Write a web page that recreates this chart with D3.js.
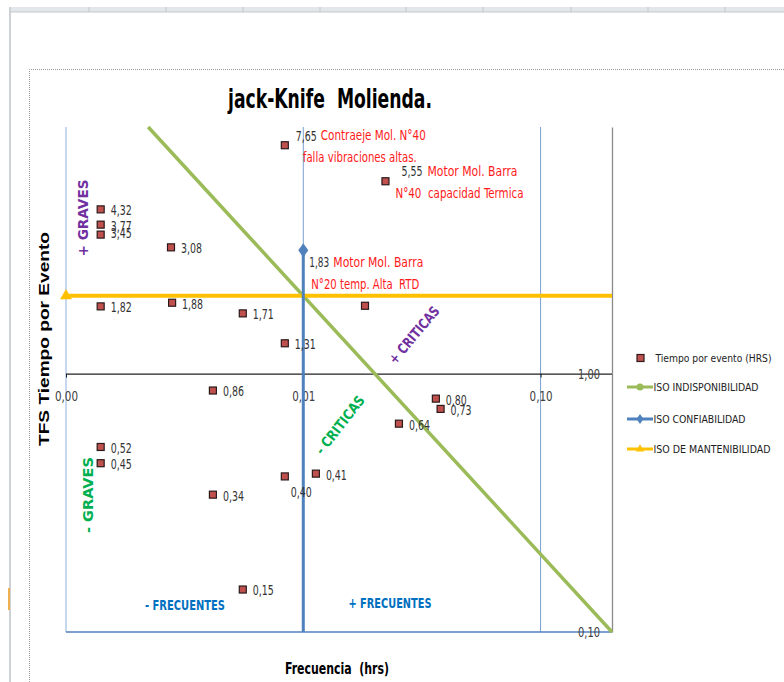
<!DOCTYPE html>
<html>
<head>
<meta charset="utf-8">
<script src="https://cdn.jsdelivr.net/npm/d3@7"></script>
<style>
  body { margin: 0; background: #fff; }
  text { white-space: pre; }
</style>
</head>
<body>
<main></main>
<script>
// jack-knife data: frequency (hrs) vs TFS per event, log-log
const freq = [0.00836, 0.0222, 0.0014, 0.0014, 0.0014, 0.00277, 0.0028, 0.0014, 0.00556, 0.00836, 0.0182,
              0.00416, 0.0362, 0.0379, 0.0253, 0.0014, 0.0014, 0.0113, 0.00836, 0.00416, 0.00556]
const tfs = [7.65, 5.55, 4.32, 3.77, 3.45, 3.08, 1.88, 1.82, 1.71, 1.31, 1.83,
             0.86, 0.80, 0.73, 0.64, 0.52, 0.45, 0.41, 0.40, 0.34, 0.146]
const pointLabels = ["7,65", "5,55", "4,32", "3,77", "3,45", "3,08", "1,88", "1,82", "1,71", "1,31", "",
                     "0,86", "0,80", "0,73", "0,64", "0,52", "0,45", "0,41", "0,40", "0,34", "0,15"]

const xTicks = [0.001, 0.01, 0.1]
const yTicks = [0.1, 1]

// ISO reference lines
const indispX = [0.00222, 0.2]
const indispY = [9, 0.1]
const confX = [0.01, 0.01]
const confY = [0.1, 3]
const mantX = [0.001, 0.2]
const mantY = [2, 2]

const legendNames = ["Tiempo por evento (HRS)", "ISO INDISPONIBILIDAD", "ISO CONFIABILIDAD", "ISO DE MANTENIBILIDAD"]

const W = 784, H = 682
const narrow = "'Liberation Sans Narrow', 'Arial Narrow', 'DejaVu Sans Condensed', sans-serif"
const green = "#9bbb59", blue = "#4f81bd", orange = "#ffc000", red = "#c0504d"

const svg = d3.select("main").append("svg")
    .attr("width", W)
    .attr("height", H)
    .style("display", "block")
    .style("background", "#fff")

function fit(sel, w) {
    return sel.attr("textLength", w).attr("lengthAdjust", "spacingAndGlyphs")
}

// spreadsheet chrome behind the chart
svg.append("rect").attr("x", 10).attr("y", 7).attr("width", W - 10).attr("height", 5).attr("fill", "#e3e6ea")
svg.append("line").attr("x1", 10).attr("x2", W).attr("y1", 12).attr("y2", 12).attr("stroke", "#c3c7cd")
svg.selectAll(".colsep")
    .data([89, 166, 243, 320, 406, 483, 571, 648, 725])
    .enter().append("line")
    .attr("x1", d => d).attr("x2", d => d).attr("y1", 7).attr("y2", 12)
    .attr("stroke", "#c3c7cd")
svg.append("line").attr("x1", 10).attr("x2", 10).attr("y1", 7).attr("y2", H)
    .attr("stroke", "#cdd1d6").attr("stroke-width", 2)
svg.append("rect").attr("x", 8).attr("y", 588).attr("width", 2).attr("height", 22).attr("fill", "#f0b050")
svg.append("path").attr("d", `M29.5,${H} V69.5 H${W}`)
    .attr("fill", "none").attr("stroke", "#9a9a9a").attr("stroke-dasharray", "1,1")

const x = d3.scaleLog().domain([0.001, 0.2]).range([66, 612])
const y = d3.scaleLog().domain([0.1, 9]).range([632, 127])

// vertical gridlines
svg.append("g").selectAll("line")
    .data(xTicks)
    .enter().append("line")
    .attr("x1", d => x(d)).attr("x2", d => x(d))
    .attr("y1", y.range()[1]).attr("y2", y.range()[0])
    .attr("stroke", (d, i) => i == 0 ? "#8fb0dc" : "#7a9fd0")
    .attr("stroke-width", 1)

// bottom line at 0.1
svg.append("line")
    .attr("x1", x.range()[0]).attr("x2", x.range()[1])
    .attr("y1", y(0.1)).attr("y2", y(0.1))
    .attr("stroke", blue).attr("stroke-width", 1.5)

// x axis crossing at tfs = 1
let bottomAxis = d3.axisBottom(x)
    .tickValues(xTicks)
    .tickFormat(d => d3.format(".2f")(d).replace(".", ","))
    .tickSize(4)
    .tickSizeOuter(0)
    .tickPadding(13)

let xAxis = svg.append("g")
    .attr("transform", `translate(0, ${y(1)})`)
    .call(bottomAxis)

xAxis.select("path").attr("stroke", "#222").attr("stroke-width", 1.3)
xAxis.selectAll("line").attr("stroke", "#222")
xAxis.selectAll("text")
    .attr("fill", "#404040")
    .style("font-family", narrow)
    .style("font-size", "14px")
    .each(function () { fit(d3.select(this), 23) })

// y axis on the right edge
let leftAxis = d3.axisLeft(y)
    .tickValues(yTicks)
    .tickFormat(d => d3.format(".2f")(d).replace(".", ","))
    .tickSize(0)
    .tickSizeOuter(0)
    .tickPadding(12)

let yAxis = svg.append("g")
    .attr("transform", `translate(${x.range()[1]}, 0)`)
    .call(leftAxis)

yAxis.select("path").attr("stroke", "#8a8a8a").attr("stroke-width", 1.3)
yAxis.selectAll("text")
    .attr("fill", "#404040")
    .style("font-family", narrow)
    .style("font-size", "14px")
    .each(function () { fit(d3.select(this), 22) })

const line = d3.line().x(d => x(d[0])).y(d => y(d[1]))

// ISO indisponibilidad
svg.append("path")
    .datum(d3.zip(indispX, indispY))
    .attr("d", line)
    .attr("fill", "none").attr("stroke", green).attr("stroke-width", 3.5)

// ISO de mantenibilidad
svg.append("path")
    .datum(d3.zip(mantX, mantY))
    .attr("d", line)
    .attr("fill", "none").attr("stroke", orange).attr("stroke-width", 4)
svg.append("path")
    .attr("d", d3.symbol(d3.symbolTriangle, 60)())
    .attr("transform", `translate(${x(mantX[0])}, ${y(mantY[0])})`)
    .attr("fill", orange)

// ISO confiabilidad
svg.append("path")
    .datum(d3.zip(confX, confY))
    .attr("d", line)
    .attr("fill", "none").attr("stroke", blue).attr("stroke-width", 3)
svg.append("path")
    .attr("d", "M0,-7 L5,0 L0,7 L-5,0 Z")
    .attr("transform", `translate(${x(confX[1])}, ${y(confY[1])})`)
    .attr("fill", blue)

// points
const pts = d3.range(freq.length).map(i => ({ f: freq[i], t: tfs[i], label: pointLabels[i] }))

svg.append("g").selectAll("rect")
    .data(pts)
    .enter().append("rect")
    .attr("x", d => x(d.f) - 3.5)
    .attr("y", d => y(d.t) - 3.5)
    .attr("width", 7)
    .attr("height", 7)
    .attr("fill", red)
    .attr("stroke", "#2a1a1a")
    .attr("stroke-width", 1.2)

// label nudges (dx, dy) for a few points
const nudge = { "7,65": [11, -9], "5,55": [16, -10], "0,40": [6, 16], "3,45": [10, -2] }

svg.append("g").selectAll("text")
    .data(pts.filter(d => d.label))
    .enter().append("text")
    .attr("x", d => x(d.f) + (nudge[d.label] ? nudge[d.label][0] : 10))
    .attr("y", d => y(d.t) + (nudge[d.label] ? nudge[d.label][1] : 1))
    .attr("dy", "0.35em")
    .attr("fill", "#333")
    .style("font-family", narrow)
    .style("font-size", "14px")
    .text(d => d.label)
    .each(function () { fit(d3.select(this), 21) })

// red notes
function note(px, py, txt, w) {
    fit(svg.append("text")
        .attr("x", px).attr("y", py).attr("dy", "0.35em")
        .attr("fill", "#ff1a1a")
        .style("font-family", narrow)
        .style("font-size", "14px")
        .text(txt), w)
}
note(x(freq[0]) + 36, y(tfs[0]) - 10, "Contraeje Mol. N°40", 105)
note(x(freq[0]) + 18, y(tfs[0]) + 12, "falla vibraciones altas.", 114)
note(x(freq[1]) + 42, y(tfs[1]) - 10, "Motor Mol. Barra", 90)
note(x(freq[1]) + 10, y(tfs[1]) + 12, "N°40  capacidad Termica", 128)
fit(svg.append("text")
    .attr("x", x(confX[1]) + 6).attr("y", y(confY[1]) + 12).attr("dy", "0.35em")
    .attr("fill", "#333")
    .style("font-family", narrow).style("font-size", "14px")
    .text("1,83"), 20)
note(x(confX[1]) + 30, y(confY[1]) + 12, "Motor Mol. Barra", 90)
note(x(confX[1]) + 8, y(confY[1]) + 34, "N°20 temp. Alta  RTD", 108)

// quadrant labels
function tag(cx, cy, angle, txt, color, w) {
    fit(svg.append("text")
        .attr("transform", `translate(${cx}, ${cy}) rotate(${angle})`)
        .attr("text-anchor", "middle")
        .attr("dy", "0.35em")
        .attr("fill", color)
        .style("font-family", narrow)
        .style("font-weight", "bold")
        .style("font-size", "14px")
        .text(txt), w)
}
tag(83, 218, -90, "+ GRAVES", "#7030a0", 77)
tag(88, 495, -90, "- GRAVES", "#00b050", 76)
tag(414, 335, -50, "+ CRITICAS", "#7030a0", 70)
tag(340, 425, -52, "- CRITICAS", "#00b050", 70)
tag(185, 605, 0, "- FRECUENTES", "#0070c0", 80)
tag(390, 603, 0, "+ FRECUENTES", "#0070c0", 83)

// title and axis titles
fit(svg.append("text")
    .attr("x", 330).attr("y", 108)
    .attr("text-anchor", "middle")
    .attr("fill", "#000")
    .style("font-family", narrow)
    .style("font-weight", "bold")
    .style("font-size", "26px")
    .text("jack-Knife  Molienda."), 204)

fit(svg.append("text")
    .attr("x", 337).attr("y", 668).attr("dy", "0.35em")
    .attr("text-anchor", "middle")
    .attr("fill", "#000")
    .style("font-family", narrow)
    .style("font-weight", "bold")
    .style("font-size", "16px")
    .text("Frecuencia  (hrs)"), 104)

fit(svg.append("text")
    .attr("transform", "translate(44, 339) rotate(-90)")
    .attr("text-anchor", "middle")
    .attr("dy", "0.35em")
    .attr("fill", "#000")
    .style("font-family", "'Liberation Sans', Arial, sans-serif")
    .style("font-weight", "bold")
    .style("font-size", "15px")
    .text("TFS Tiempo por Evento"), 214)

// legend
const legendY = [358, 387, 419, 449]
const legendW = [116, 105, 92, 117]
const legend = svg.append("g")

legend.append("rect").attr("x", 637).attr("y", legendY[0] - 3.5).attr("width", 7).attr("height", 7)
    .attr("fill", red).attr("stroke", "#2a1a1a").attr("stroke-width", 1.2)

const legendColors = [null, green, blue, orange]
for (let i = 1; i < 4; i++) {
    legend.append("line")
        .attr("x1", 627).attr("x2", 653)
        .attr("y1", legendY[i]).attr("y2", legendY[i])
        .attr("stroke", legendColors[i]).attr("stroke-width", 3)
}
legend.append("circle").attr("cx", 640).attr("cy", legendY[1]).attr("r", 3.5).attr("fill", green)
legend.append("path").attr("d", "M0,-5 L3.5,0 L0,5 L-3.5,0 Z")
    .attr("transform", `translate(640, ${legendY[2]})`).attr("fill", blue)
legend.append("path").attr("d", d3.symbol(d3.symbolTriangle, 30)())
    .attr("transform", `translate(640, ${legendY[3]})`).attr("fill", orange)

legend.selectAll("text")
    .data(legendNames)
    .enter().append("text")
    .attr("x", (d, i) => i == 0 ? 655.5 : 653.5)
    .attr("y", (d, i) => legendY[i])
    .attr("dy", "0.35em")
    .attr("fill", "#222")
    .style("font-family", narrow)
    .style("font-size", "11px")
    .text(d => d)
    .each(function (d, i) { fit(d3.select(this), legendW[i]) })
</script>
</body>
</html>
